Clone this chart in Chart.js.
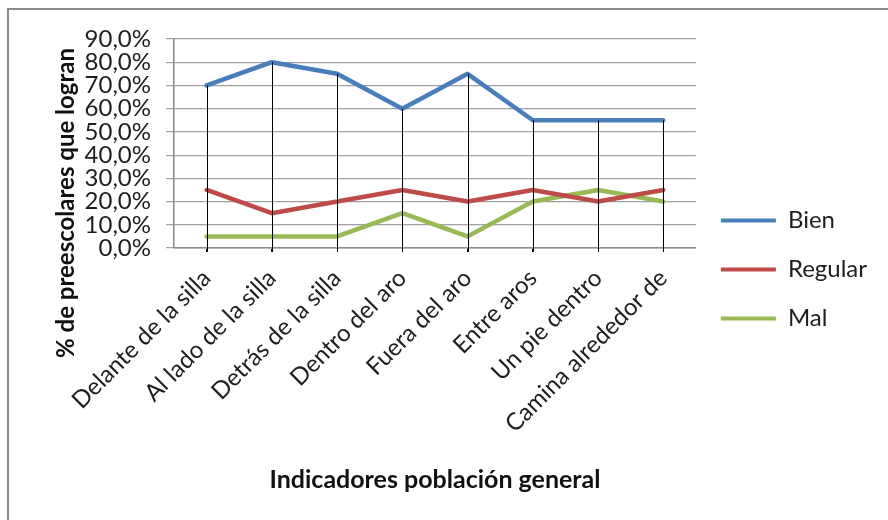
<!DOCTYPE html>
<html>
<head>
<meta charset="utf-8">
<script src="https://cdn.jsdelivr.net/npm/chart.js@4.4.0/dist/chart.umd.min.js"></script>
<style>
  html, body { margin: 0; padding: 0; background: #fff; overflow: hidden; }
  #wrap { position: relative; width: 888px; height: 520px; }
  #frame { position: absolute; left: 7px; top: 8px; width: 1000px; height: 1000px; border: 2px solid #8a8a8a; box-sizing: border-box; pointer-events: none; }
  canvas { position: absolute; left: 0; top: 0; }
</style>
</head>
<body>
<div id="wrap">
  <canvas id="c" width="888" height="520"></canvas>
  <div id="frame"></div>
</div>
<script>
const categories = ["Delante de la silla", "Al lado de la silla", "Detrás de la silla", "Dentro del aro", "Fuera del aro", "Entre aros", "Un pie dentro", "Camina alrededor de"];
const bien = [70, 80, 75, 60, 75, 55, 55, 55];
const regular = [25, 15, 20, 25, 20, 25, 20, 25];
const mal = [5, 5, 5, 15, 5, 20, 25, 20];
const seriesNames = ["Bien", "Regular", "Mal"];
const yTicks = [0, 10, 20, 30, 40, 50, 60, 70, 80, 90];
const yTitle = "% de preescolares que logran";
const xTitle = "Indicadores población general";

const FONT = "Lato, 'Open Sans', sans-serif";
const TXT = "#1e1e1e";

const dropLines = {
  id: 'dropLines',
  afterDatasetsDraw(chart) {
    const ctx = chart.ctx;
    const x = chart.scales.x, y = chart.scales.y;
    ctx.save();
    ctx.strokeStyle = '#000';
    ctx.lineWidth = 1;
    categories.forEach((c, i) => {
      const top = Math.max(bien[i], regular[i], mal[i]);
      const px = Math.round(x.getPixelForValue(i)) + 0.5;
      ctx.beginPath();
      ctx.moveTo(px, y.getPixelForValue(top));
      ctx.lineTo(px, y.getPixelForValue(0) + 4);
      ctx.stroke();
    });
    ctx.restore();
  }
};

const yTitlePlugin = {
  id: 'yTitlePlugin',
  afterDraw(chart) {
    const ctx = chart.ctx;
    ctx.save();
    ctx.translate(66, 203);
    ctx.rotate(-Math.PI / 2);
    ctx.font = "bold 24px " + FONT;
    ctx.fillStyle = '#111';
    ctx.textAlign = 'center';
    ctx.textBaseline = 'middle';
    ctx.fillText(yTitle, 0, 0);
    ctx.restore();
  }
};

new Chart(document.getElementById('c'), {
  type: 'line',
  data: {
    labels: categories,
    datasets: [
      { label: seriesNames[0], data: bien, borderColor: '#4A7EBB', backgroundColor: '#4A7EBB' },
      { label: seriesNames[1], data: regular, borderColor: '#BE4B48', backgroundColor: '#BE4B48' },
      { label: seriesNames[2], data: mal, borderColor: '#98B954', backgroundColor: '#98B954' }
    ]
  },
  options: {
    responsive: false,
    animation: false,
    devicePixelRatio: 1,
    elements: {
      line: { borderWidth: 4.5, tension: 0, borderCapStyle: 'round', borderJoinStyle: 'round' },
      point: { radius: 0, hoverRadius: 0 }
    },
    layout: { padding: { left: 36, top: 39, right: 11, bottom: 20 } },
    plugins: {
      tooltip: { enabled: false },
      legend: {
        position: 'right',
        labels: {
          font: { family: FONT, size: 24 },
          color: TXT,
          boxWidth: 55,
          boxHeight: 4,
          padding: 25,
          generateLabels(chart) {
            return chart.data.datasets.map((d, i) => ({
              text: d.label, fillStyle: d.borderColor, strokeStyle: d.borderColor,
              lineWidth: 0, hidden: false, datasetIndex: i, fontColor: TXT
            }));
          }
        }
      }
    },
    scales: {
      x: {
        type: 'category',
        offset: true,
        grid: { display: true, drawOnChartArea: false, offset: false, color: '#000', tickLength: 4 },
        border: { color: '#8a8a8a', width: 1.5 },
        ticks: {
          font: { family: FONT, size: 24 },
          color: TXT,
          maxRotation: 45, minRotation: 45,
          autoSkip: false,
          padding: 12
        },
        title: {
          display: true,
          text: xTitle,
          font: { family: FONT, size: 25, weight: 'bold' },
          color: '#111',
          padding: { top: 0, bottom: 5 }
        },
        afterFit(scale) { scale.height = 252; }
      },
      y: {
        min: 0, max: 90,
        afterBuildTicks(scale) { scale.ticks = yTicks.map(v => ({ value: v })); },
        grid: { color: '#a0a0a0', lineWidth: 1.2, tickLength: 8 },
        border: { color: '#8a8a8a', width: 1.5 },
        ticks: {
          font: { family: FONT, size: 24, lineHeight: 1 },
          color: TXT,
          autoSkip: false,
          padding: 15,
          callback: v => v.toFixed(1).replace('.', ',') + '%'
        },
        afterFit(scale) { scale.width = 138; }
      }
    }
  },
  plugins: [dropLines, yTitlePlugin]
});
</script>
</body>
</html>
